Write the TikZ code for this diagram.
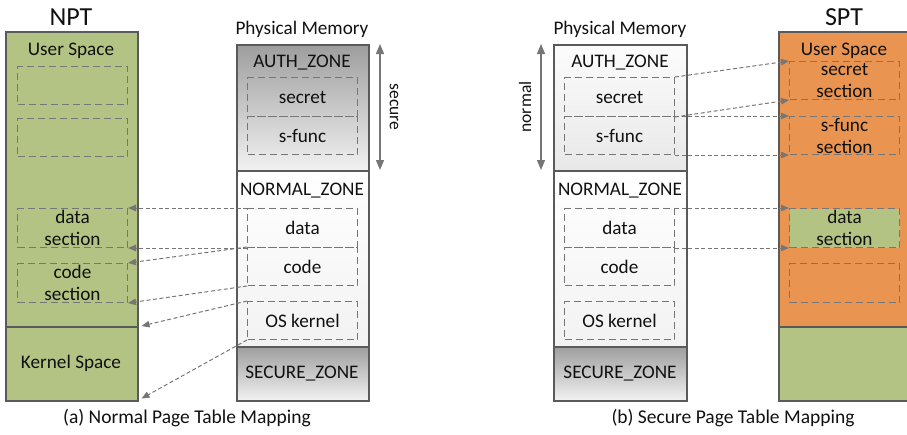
\documentclass[tikz,border=0pt]{standalone}
\usepackage{fontspec}
\setmainfont{Carlito}
\usetikzlibrary{arrows.meta}
\definecolor{ptgreen}{HTML}{B3C383}
\definecolor{ptorange}{HTML}{EA9452}
\definecolor{edgegray}{HTML}{5A5A5A}
\definecolor{dashgray}{HTML}{767676}
\definecolor{darkzone}{HTML}{9E9E9E}
\definecolor{lightzone}{HTML}{F2F2F2}
\definecolor{paletop}{HTML}{FCFCFC}
\definecolor{palebot}{HTML}{E8E8E8}
\definecolor{textcol}{HTML}{111111}
\tikzset{
  region/.style={draw=edgegray, line width=1.5pt, inner sep=0pt, anchor=north west},
  sect/.style={draw=dashgray, line width=1pt, dash pattern=on 7pt off 4pt, inner sep=0pt,
    anchor=north west, align=center, text=textcol, font=\fontsize{19.2}{22}\selectfont},
  lbl/.style={anchor=base, inner sep=0pt, text=textcol, font=\fontsize{19.2}{22}\selectfont},
  ttl/.style={anchor=base, inner sep=0pt, text=textcol, font=\fontsize{26}{30}\selectfont},
  captext/.style={anchor=base, inner sep=0pt, text=textcol, font=\fontsize{19.5}{22}\selectfont},
  sidelbl/.style={inner sep=0pt, text=textcol, font=\fontsize{17.5}{20}\selectfont},
  maparrow/.style={draw=dashgray, line width=1pt, dash pattern=on 4pt off 2.5pt,
    -{Triangle[length=8pt,width=6.5pt]}},
  spanarrow/.style={draw=dashgray, line width=1.3pt,
    {Triangle[length=10pt,width=8pt]}-{Triangle[length=10pt,width=8pt]}},
}
\begin{document}
\begin{tikzpicture}[x=1pt,y=-1pt]
\useasboundingbox (0,0) rectangle (907,434);

% ---------------- (a) normal page table ----------------
\node[region, fill=ptgreen, minimum width=132pt, minimum height=295pt] (nptuser) at (5,31) {};
\node[region, fill=ptgreen, minimum width=132pt, minimum height=74pt] (nptkernel) at (5,326) {};
\node[ttl] (npttitle) at (71,25) {NPT};
\node[lbl] (nptuserlbl) at (71,55) {User Space};
\node[lbl] (nptkernellbl) at (71,368) {Kernel Space};
\node[sect, minimum width=110pt, minimum height=38pt] (nbox1) at (17,66) {};
\node[sect, minimum width=110pt, minimum height=38pt] (nbox2) at (17,118) {};
\node[sect, minimum width=110pt, minimum height=39pt] (ndata) at (17,208) {data\\section};
\node[sect, minimum width=110pt, minimum height=39pt] (ncode) at (17,263) {code\\section};

% physical memory (a)
\node[region, top color=darkzone, bottom color=lightzone, minimum width=132pt, minimum height=126pt] (aauth) at (236,44) {};
\node[region, top color=white, bottom color=lightzone, minimum width=132pt, minimum height=176pt] (anormal) at (236,170) {};
\node[region, top color=darkzone, bottom color=lightzone, minimum width=132pt, minimum height=54pt] (asecure) at (236,346) {};
\node[lbl] (apmtitle) at (302,34) {Physical Memory};
\node[lbl] (aauthlbl) at (302,67) {AUTH\_ZONE};
\node[lbl] (anormallbl) at (302,195) {NORMAL\_ZONE};
\node[lbl] (asecurelbl) at (302,378) {SECURE\_ZONE};
\node[sect, minimum width=110pt, minimum height=39pt] (asecret) at (247,77) {secret};
\node[sect, minimum width=110pt, minimum height=38pt] (asfunc) at (247,116) {s-func};
\node[sect, minimum width=110pt, minimum height=39pt] (adata) at (247,208) {data};
\node[sect, minimum width=110pt, minimum height=38pt] (acode) at (247,247) {code};
\node[sect, minimum width=110pt, minimum height=38pt] (akernel) at (247,301) {OS kernel};

\coordinate (asectop) at (380,44);
\coordinate (asecbot) at (380,170);
\draw[spanarrow] (asectop) -- (asecbot);
\node[sidelbl, rotate=-90] (asecurespan) at (394,107) {secure};

% mappings (a)
\draw[maparrow] (adata.north west) -- (ndata.north east);
\draw[maparrow] (adata.south west) -- (ndata.south east);
\draw[maparrow] (acode.north west) -- (ncode.north east);
\draw[maparrow] (acode.south west) -- (ncode.south east);
\draw[maparrow] (akernel.north west) -- ([xshift=3pt]nptkernel.north east);
\draw[maparrow] (akernel.south west) -- ([xshift=3pt,yshift=3pt]nptkernel.south east);

\node[captext] (acap) at (187,423) {(a) Normal Page Table Mapping};

% ---------------- (b) secure page table ----------------
\node[region, top color=paletop, bottom color=palebot, minimum width=133pt, minimum height=126pt] (bauth) at (553,44) {};
\node[region, top color=white, bottom color=lightzone, minimum width=133pt, minimum height=176pt] (bnormal) at (553,170) {};
\node[region, top color=darkzone, bottom color=lightzone, minimum width=133pt, minimum height=54pt] (bsecure) at (553,346) {};
\node[lbl] (bpmtitle) at (620,34) {Physical Memory};
\node[lbl] (bauthlbl) at (620,67) {AUTH\_ZONE};
\node[lbl] (bnormallbl) at (620,195) {NORMAL\_ZONE};
\node[lbl] (bsecurelbl) at (620,378) {SECURE\_ZONE};
\node[sect, minimum width=110pt, minimum height=39pt] (bsecret) at (564,77) {secret};
\node[sect, minimum width=110pt, minimum height=38pt] (bsfunc) at (564,116) {s-func};
\node[sect, minimum width=110pt, minimum height=39pt] (bdata) at (564,208) {data};
\node[sect, minimum width=110pt, minimum height=38pt] (bcode) at (564,247) {code};
\node[sect, minimum width=110pt, minimum height=38pt] (bkernel) at (564,301) {OS kernel};

\coordinate (bnormtop) at (541,44);
\coordinate (bnormbot) at (541,170);
\draw[spanarrow] (bnormtop) -- (bnormbot);
\node[sidelbl, rotate=90] (bnormalspan) at (525,107) {normal};

\node[region, fill=ptorange, minimum width=132pt, minimum height=295pt] (sptuser) at (778,31) {};
\node[region, fill=ptgreen, minimum width=132pt, minimum height=74pt] (sptkernel) at (778,326) {};
\node[ttl] (spttitle) at (844,25) {SPT};
\node[lbl] (sptuserlbl) at (844,55) {User Space};
\node[sect, minimum width=110pt, minimum height=38pt] (ssecret) at (789,61) {secret\\section};
\node[sect, minimum width=110pt, minimum height=38pt] (ssfunc) at (789,116) {s-func\\section};
\node[sect, fill=ptgreen, minimum width=110pt, minimum height=39pt] (sdata) at (789,208) {data\\section};
\node[sect, minimum width=110pt, minimum height=39pt] (sempty) at (789,263) {};

% mappings (b)
\draw[maparrow] (bsecret.north east) -- (ssecret.north west);
\draw[maparrow] (bsecret.south east) -- (ssecret.south west);
\draw[maparrow] (bsfunc.north east) -- (ssfunc.north west);
\draw[maparrow] (bsfunc.south east) -- (ssfunc.south west);
\draw[maparrow] (bdata.north east) -- (sdata.north west);
\draw[maparrow] (bdata.south east) -- (sdata.south west);

\node[captext] (bcap) at (733,423) {(b) Secure Page Table Mapping};
\end{tikzpicture}
\end{document}
